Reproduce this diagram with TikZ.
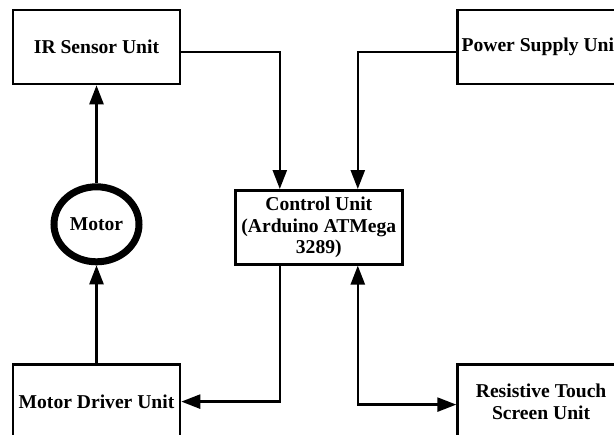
\documentclass[tikz,border=0pt]{standalone}
\usepackage{fontspec}
\setmainfont{Liberation Serif}
\usepackage{tikz}
\usetikzlibrary{arrows.meta,shapes.geometric,positioning,calc}

\begin{document}
\begin{tikzpicture}[
  blk/.style={rectangle,draw=black,line width=1.3pt,
              minimum width=83.5pt,minimum height=37pt,inner sep=1pt,
              font=\fontsize{9.8}{10.8}\selectfont\bfseries,align=center},
  mot/.style={ellipse,draw=black,line width=3.5pt,
              minimum width=42.5pt,minimum height=37.5pt,inner sep=0pt,
              font=\fontsize{9.8}{10.8}\selectfont\bfseries},
  arr/.style={-{Triangle[length=9.5pt,width=7pt]},line width=1.25pt,draw=black},
  dbl/.style={{Triangle[length=9.5pt,width=7pt]}-{Triangle[length=9.5pt,width=7pt]},
              line width=1.25pt,draw=black},
]
\useasboundingbox (0,0) rectangle (307pt,-217pt);

\node[blk] (ir) at (48.25pt,-23.5pt) {IR Sensor Unit};
\node[blk,right=137.5pt of ir] (pwr) {Power Supply Unit};
\node[blk,below=139pt of ir] (mdrv) {Motor Driver Unit};
\node[blk,right=137.5pt of mdrv] (touch) {Resistive Touch\\Screen Unit};

\node[mot] (motor) at ($(ir)!0.5!(mdrv)$) {Motor};
\coordinate (mid) at ($(ir.east)!0.5!(pwr.west)$);
\node[blk] (ctrl) at ([yshift=-1.5pt]mid |- motor) {Control Unit\\(Arduino ATMega\\3289)};

\draw[arr] ([yshift=-2.5pt]ir.east) -| ([xshift=-19.5pt]ctrl.north);
\draw[arr] ([yshift=-2.5pt]pwr.west) -| ([xshift=19.5pt]ctrl.north);
\draw[arr] ([xshift=-19.5pt]ctrl.south) |- (mdrv.east);
\draw[dbl] ([yshift=-1.5pt]touch.west) -| ([xshift=19.5pt]ctrl.south);

% motor chain
\draw[arr] (mdrv.north) -- (motor.south);
\draw[arr] (motor.north) -- (ir.south);
\end{tikzpicture}
\end{document}
